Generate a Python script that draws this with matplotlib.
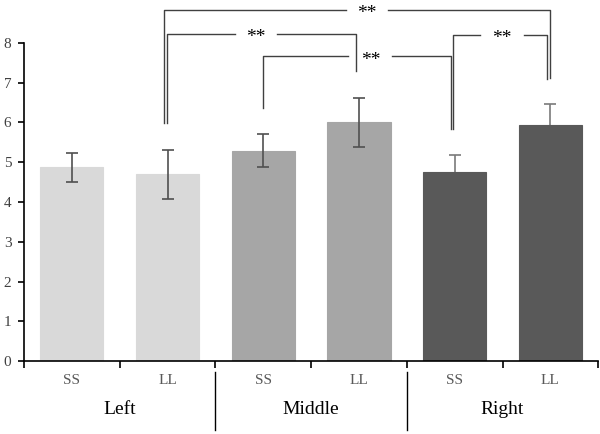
import matplotlib
matplotlib.use('Agg')
import matplotlib.pyplot as plt
import matplotlib.transforms as mtransforms

plt.rcParams['font.family'] = ['Liberation Serif', 'DejaVu Serif']

# data
groups = ['Left', 'Middle', 'Right']
conds = ['SS', 'LL', 'SS', 'LL', 'SS', 'LL']
means = [4.87, 4.70, 5.29, 6.00, 4.76, 5.93]
errs = [0.36, 0.62, 0.41, 0.62, 0.43, 0.53]
colors = ['#d9d9d9', '#d9d9d9', '#a6a6a6', '#a6a6a6', '#595959', '#595959']

# significance brackets: (x left, x right, y top, left leg bottom, right leg bottom, label x, gap half-width)
brackets = [
    (0.96, 5.00, 8.84, 5.99, 7.12, 3.08, 0.22),
    (0.99, 2.97, 8.23, 5.99, 7.30, 1.92, 0.22),
    (2.00, 3.96, 7.67, 6.36, 5.84, 3.12, 0.23),
    (3.98, 4.97, 8.20, 5.84, 7.09, 4.49, 0.23),
]

fig = plt.figure(figsize=(6, 4.34), dpi=100)
ax = fig.add_axes([0.04, 0.168, 0.957, 0.733])

x = list(range(len(means)))
ax.bar(x, means, width=0.66, color=colors, edgecolor=colors, linewidth=0.8, zorder=2)
for i in x:
    dark = colors[i] == '#595959'
    ax.errorbar(i, means[i], yerr=errs[i], fmt='none',
                ecolor='#7a7a7a' if dark else '#505050', elinewidth=1.2,
                capsize=4, capthick=1.2, zorder=1 if dark else 3)

ax.set_xlim(-0.5, 5.5)
ax.set_ylim(0, 8)
ax.set_yticks(range(0, 9))
ax.set_xticks([i - 0.5 for i in range(7)])
ax.set_xticklabels([])
ax.tick_params(axis='y', direction='out', length=4, width=1.2, pad=5,
               labelsize=11, labelcolor='#404040')
ax.tick_params(axis='x', direction='out', length=5, width=1.2)
for s in ['top', 'right']:
    ax.spines[s].set_visible(False)
for s in ['left', 'bottom']:
    ax.spines[s].set_linewidth(1.2)

trans = mtransforms.blended_transform_factory(ax.transData, fig.transFigure)
for i, c in enumerate(conds):
    ax.text(i, 1 - 380 / 434, c, transform=trans, ha='center', va='center',
            fontsize=11, color='#595959')
for g, name in enumerate(groups):
    ax.text(2 * g + 0.5, 1 - 410 / 434, name, transform=trans, ha='center',
            va='center', fontsize=14, color='black')
for sep in [1.5, 3.5]:
    ax.plot([sep, sep], [1 - 372 / 434, 1 - 430 / 434], transform=trans,
            color='black', lw=1, clip_on=False)

for x1, x2, y, b1, b2, lx, g in brackets:
    kw = dict(color='#404040', lw=1, clip_on=False)
    ax.plot([x1, x1, lx - g], [b1, y, y], **kw)
    ax.plot([lx + g, x2, x2], [y, y, b2], **kw)
    ax.text(lx, y - 0.1, '**', ha='center', va='center', fontsize=14,
            color='black', clip_on=False)

fig.savefig('out.png', dpi=100)
